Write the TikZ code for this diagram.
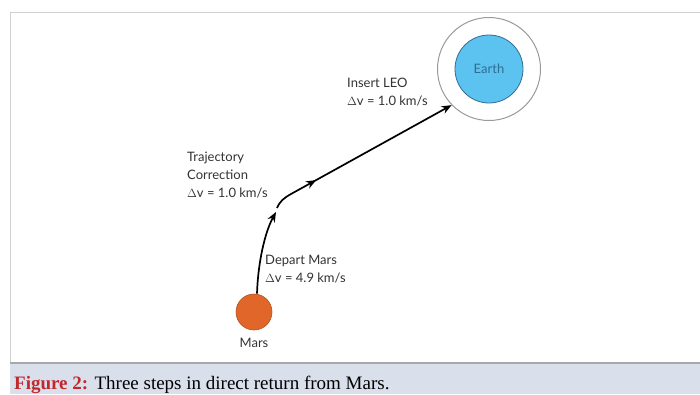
\documentclass[tikz,border=0pt]{standalone}
\usepackage{fontspec}
\setmainfont{Liberation Serif}
\newfontfamily\labfont{Lato}
\usetikzlibrary{arrows.meta,decorations.markings}
\definecolor{marsc}{HTML}{E0662A}
\definecolor{marsdk}{HTML}{B5501E}
\definecolor{earthc}{HTML}{5CC3F0}
\definecolor{earthdk}{HTML}{2E6E94}
\definecolor{orbitc}{HTML}{9A9A9A}
\definecolor{framec}{HTML}{D0D0D0}
\definecolor{capbg}{HTML}{D9E0EC}
\definecolor{capline}{HTML}{A8A8A8}
\definecolor{capred}{HTML}{C1272D}
\definecolor{txt}{HTML}{333333}
\tikzset{
  lab/.style={font=\labfont\fontsize{13}{18}\selectfont, text=txt, align=left, inner sep=0pt},
  traj/.style={line width=1.7pt, black},
  tip/.style={-{Stealth[length=10pt,width=8pt]}}
}
\begin{document}
\begin{tikzpicture}[x=1pt,y=-1pt]
\useasboundingbox (0,0) rectangle (700,394);
\fill[white] (0,0) rectangle (700,394);
\draw[framec, line width=1pt] (10,394) -- (10,12) -- (701,12);
\fill[capbg] (10,363) rectangle (701,394);
\draw[capline, line width=1.2pt] (10,363) -- (701,363);
% bodies
\node[circle, fill=marsc, draw=marsdk, line width=0.6pt, minimum size=36pt, inner sep=0pt] (mars) at (254,312) {};
\node[lab, anchor=base] (marsl) at (254,347) {Mars};
\node[circle, draw=orbitc, line width=1pt, minimum size=103pt, inner sep=0pt] (orbit) at (489,69) {};
\node[circle, fill=earthc, draw=earthdk, line width=0.8pt, minimum size=68pt, inner sep=0pt, font=\labfont\fontsize{13}{15}\selectfont, text=earthdk] (earth) at (489,69) {Earth};
% labels
\node[lab, anchor=north west] (tcl) at (187,152) {Trajectory\\Correction\\$\Delta$v = 1.0 km/s};
\node[lab, anchor=north west] (dml) at (265,255) {Depart Mars\\$\Delta$v = 4.9 km/s};
\node[lab, anchor=north west] (ileo) at (347,78) {Insert LEO\\$\Delta$v = 1.0 km/s};
% trajectory
\coordinate (tc1) at (276,212);
\coordinate (tc2) at (277,208);
\coordinate (bend) at (291,194);
\draw[traj, tip] ([xshift=3pt]mars.north) .. controls (258,262) and (265,232) .. (tc1);
\draw[traj, postaction={decorate}, tip,
  decoration={markings, mark=at position 0.24 with {\arrow{Stealth[length=10pt,width=8pt]}}}]
  (tc2) .. controls (280,201) and (284,198) .. (bend) -- (orbit.224);
% caption
\node[anchor=base west, inner sep=0pt, font=\fontsize{19}{22}\selectfont] (cap) at (14,389)
  {\textcolor{capred}{\textbf{Figure 2:}} Three steps in direct return from Mars.};
\end{tikzpicture}
\end{document}
